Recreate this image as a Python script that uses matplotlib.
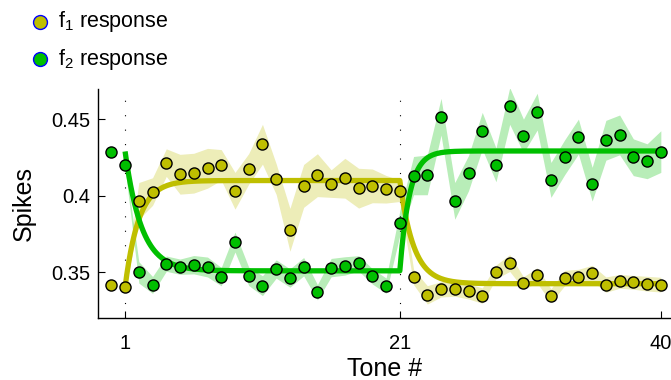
import numpy as np
import matplotlib
matplotlib.use("Agg")
import matplotlib.pyplot as plt
from matplotlib.lines import Line2D

plt.rcParams['font.family'] = ['Liberation Sans', 'DejaVu Sans']
plt.rcParams['mathtext.fontset'] = 'custom'
plt.rcParams['mathtext.rm'] = 'Liberation Sans'
plt.rcParams['mathtext.it'] = 'Liberation Sans'

# tone index 0..40
tones = np.arange(41)

f1_resp = [0.3420, 0.3405, 0.3967, 0.4028, 0.4217, 0.4141, 0.4148, 0.4180, 0.4202, 0.4033,
           0.4176, 0.4337, 0.4109, 0.3778, 0.4065, 0.4135, 0.4080, 0.4115, 0.4050, 0.4065,
           0.4043, 0.4033, 0.3470, 0.3353, 0.3389, 0.3394, 0.3376, 0.3348, 0.3503, 0.3561,
           0.3431, 0.3480, 0.3348, 0.3463, 0.3470, 0.3496, 0.3420, 0.3441, 0.3435, 0.3426,
           0.3420]
f2_resp = [0.4289, 0.4202, 0.3500, 0.3418, 0.3557, 0.3537, 0.3550, 0.3535, 0.3472, 0.3698,
           0.3474, 0.3413, 0.3522, 0.3463, 0.3537, 0.3370, 0.3531, 0.3542, 0.3559, 0.3474,
           0.3413, 0.3822, 0.4132, 0.4137, 0.4517, 0.3967, 0.4148, 0.4425, 0.4202, 0.4587,
           0.4391, 0.4550, 0.4104, 0.4252, 0.4387, 0.4076, 0.4363, 0.4398, 0.4252, 0.4226,
           0.4289]

# error band half widths for tones 1..40
f1_err = [0.003, 0.012, 0.009, 0.009, 0.013, 0.013, 0.013, 0.010, 0.012, 0.010,
          0.013, 0.010, 0.014, 0.014, 0.014, 0.009, 0.013, 0.013, 0.011, 0.009,
          0.007, 0.005, 0.006, 0.005, 0.005, 0.005, 0.005, 0.0045, 0.0055, 0.004,
          0.005, 0.0045, 0.005, 0.005, 0.005, 0.005, 0.0045, 0.0045, 0.0048, 0.0048]
f2_err = [0.002, 0.007, 0.0055, 0.005, 0.005, 0.006, 0.0065, 0.006, 0.0065, 0.006,
          0.0065, 0.006, 0.006, 0.006, 0.005, 0.006, 0.006, 0.005, 0.005, 0.005,
          0.008, 0.0125, 0.013, 0.012, 0.012, 0.0115, 0.012, 0.011, 0.012, 0.011,
          0.012, 0.0114, 0.0114, 0.0114, 0.011, 0.013, 0.013, 0.012, 0.0114, 0.0136]

# exponential fit parameters: (start value, asymptote, tau) for tones 1-21 and 21-40
switch_tones = [1, 21, 40]
f1_fit = [(0.3405, 0.4100, 1.0), (None, 0.3426, 1.0)]
f2_fit = [(0.4290, 0.3510, 1.2), (None, 0.4293, 0.7)]

xticks = [1, 21, 40]
yticks = [0.35, 0.4, 0.45]
ytick_labels = ['0.35', '0.4', '0.45']

yellow = '#BFBF00'
green = '#00BF00'

fig = plt.figure(figsize=(6.71, 3.80), dpi=100)
ax = fig.add_axes([0.1465, 0.1624, 1 - 0.1465, 0.765 - 0.1624])

ax.axvline(1, color='black', lw=0.8, ls=(0, (1, 12)), zorder=1)
ax.axvline(21, color='black', lw=0.8, ls=(0, (1, 12)), zorder=1)

t_band = tones[1:]
for resp, err, col in [(f1_resp, f1_err, yellow), (f2_resp, f2_err, green)]:
    m = np.array(resp[1:])
    e = np.array(err)
    ax.fill_between(t_band, m - e, m + e, color=col, alpha=0.28, lw=0, zorder=2)


def fit_curve(params):
    xs, ys = [], []
    prev_end = None
    for k, (y0, a, tau) in enumerate(params):
        t0, t1 = switch_tones[k], switch_tones[k + 1]
        t = np.linspace(t0, t1, 300)
        start = y0 if y0 is not None else prev_end
        y = a + (start - a) * np.exp(-(t - t0) / tau)
        prev_end = y[-1]
        xs.append(t)
        ys.append(y)
    return np.concatenate(xs), np.concatenate(ys)


for params, col in [(f1_fit, yellow), (f2_fit, green)]:
    fx, fy = fit_curve(params)
    ax.plot(fx, fy, color=col, lw=3.8, solid_capstyle='butt', zorder=3)

ax.plot(tones, f1_resp, 'o', ms=8.0, mfc=yellow, mec='black', mew=1.0, zorder=4)
ax.plot(tones, f2_resp, 'o', ms=8.0, mfc=green, mec='black', mew=1.0, zorder=4)

ax.set_xlim(-0.95, 40.74)
ax.set_ylim(0.32, 0.4696)
ax.set_xticks(xticks)
ax.set_yticks(yticks)
ax.set_yticklabels(ytick_labels)
ax.tick_params(direction='in', length=5, width=0.8, labelsize=14.5)
ax.tick_params(axis='x', pad=11)
ax.tick_params(axis='y', pad=6)
for s in ['top', 'right']:
    ax.spines[s].set_visible(False)
for s in ['left', 'bottom']:
    ax.spines[s].set_linewidth(1.0)

ax.set_xlabel('Tone #', fontsize=18, labelpad=3)
ax.set_ylabel('Spikes', fontsize=18, labelpad=11)

# legend drawn in figure coordinates
for yy, col, lab in [(21.7, yellow, r'f$_1$ response'), (59.3, green, r'f$_2$ response')]:
    fig.add_artist(Line2D([40 / 671], [1 - yy / 380], transform=fig.transFigure,
                          marker='o', ms=10, mfc=col, mec='blue', mew=1.0, ls='none'))
    fig.text(58 / 671, 1 - yy / 380, lab, fontsize=15.5, va='center', ha='left')

fig.savefig('out.png', dpi=100)
